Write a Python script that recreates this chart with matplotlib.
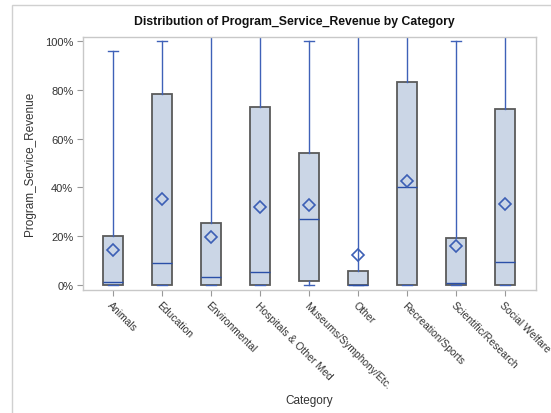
import matplotlib
matplotlib.use("Agg")
import matplotlib.pyplot as plt
from matplotlib.patches import Rectangle
from matplotlib.ticker import FuncFormatter

plt.rcParams['font.family'] = ['Liberation Sans', 'DejaVu Sans']

categories = ["Animals", "Education", "Environmental", "Hospitals & Other Med",
              "Museums/Symphony/Etc.", "Other", "Recreation/Sports",
              "Scientific/Research", "Social Welfare"]
whisk_lo = [0, 0, 0, 0, 0, 0, 0, 0, 0]
q1 = [0, 0, 0, 0, 1.5, 0, 0, 0, 0]
medians = [1.1, 9.0, 3.1, 5.5, 27.0, 0.0, 40.0, 0.8, 9.3]
q3 = [20.0, 78.3, 25.3, 73.0, 54.2, 5.7, 83.2, 19.1, 72.1]
whisk_hi = [95.9, 100.0, 150.0, 150.0, 100.0, 150.0, 150.0, 100.0, 150.0]
means = [14.3, 35.1, 19.5, 32.0, 32.6, 12.2, 42.6, 16.1, 33.1]
yticks = [0, 20, 40, 60, 80, 100]

W, H = 551, 414
fig = plt.figure(figsize=(W/100, H/100), dpi=100)
# outer light border (top & left visible)
fig.patches.append(Rectangle((12/W, -0.1), 1.2, (H-6)/H + 0.1, transform=fig.transFigure,
                             fill=False, edgecolor='#d0d0d0', lw=1.0))

ax = fig.add_axes([83/W, 1-291/H, (535.5-83)/W, (291-38)/H])

stats = []
for i in range(len(categories)):
    stats.append(dict(whislo=whisk_lo[i], q1=q1[i], med=medians[i], q3=q3[i],
                      whishi=whisk_hi[i], mean=means[i], fliers=[]))

ax.bxp(stats, positions=range(len(categories)), widths=0.41, patch_artist=True,
       showmeans=True,
       boxprops=dict(facecolor='#cbd6e6', edgecolor='#5a5a5a', linewidth=1.3),
       medianprops=dict(color='#2a4fa8', linewidth=1.0),
       whiskerprops=dict(color='#3f61b8', linewidth=1.0),
       capprops=dict(color='#3f61b8', linewidth=1.0),
       capwidths=0.2,
       meanprops=dict(marker='D', markerfacecolor='none', markeredgecolor='#3c5fb5',
                      markeredgewidth=1.2, markersize=6.3))

ax.set_xlim(-0.612, 8.622)
ax.set_ylim(-2.05, 101.64)
ax.set_yticks(yticks)
ax.yaxis.set_major_formatter(FuncFormatter(lambda v, p: f"{int(v)}%"))
ax.set_xticks(range(len(categories)))
ax.set_xticklabels(categories, rotation=-45, ha='left', va='top', rotation_mode='anchor',
                   fontsize=7.5, color='#333333')
for lbl in ax.get_yticklabels():
    lbl.set_fontsize(8)
    lbl.set_color('#333333')
ax.tick_params(axis='both', length=4, color='#999999', width=0.8, pad=3)
for s in ax.spines.values():
    s.set_color('#c8c8c8')
    s.set_linewidth(1.0)

fig.text(294.5/W, 1-22/H, "Distribution of Program_Service_Revenue by Category",
         ha='center', va='center', fontsize=8.8, fontweight='bold', color='#111111')
fig.text(30/W, 1-164/H, "Program_Service_Revenue", rotation=90, ha='center', va='center',
         fontsize=8.5, color='#333333')
fig.text(309/W, 1-401/H, "Category", ha='center', va='center', fontsize=8.5, color='#333333')

fig.savefig("out.png", dpi=100)
